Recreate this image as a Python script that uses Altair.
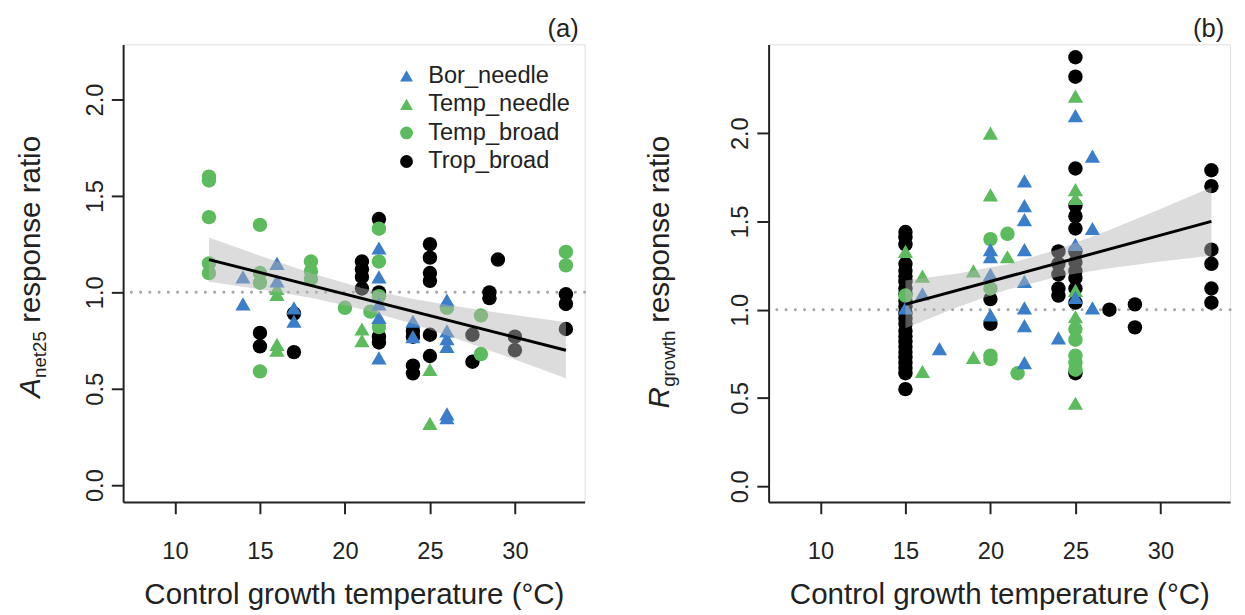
import altair as alt
import pandas as pd

FONT = "Liberation Sans"
GROUPS = ["Bor_needle", "Temp_needle", "Temp_broad", "Trop_broad"]
GROUP_COLORS = ["#3A7DC9", "#5CBB5C", "#5CBB5C", "#000000"]
GROUP_SHAPES = ["triangle-up", "triangle-up", "circle", "circle"]
X_TICKS = [10, 15, 20, 25, 30]
Y_TICKS = [0.0, 0.5, 1.0, 1.5, 2.0]
X_LABEL = "Control growth temperature (°C)"
X_DOMAIN = [6.95, 34.1]
REF_LINE = [1.0]

# ---------------- Panel (a): A_net25 response ratio ----------------
a_bor_t = [14, 14, 16, 16, 17, 17, 22, 22, 22, 22, 22, 24, 24, 26, 26, 26, 26, 26, 26]
a_bor_v = [1.08, 0.94, 1.15, 1.06, 0.92, 0.85, 1.23, 1.08, 0.94, 0.87, 0.66, 0.85, 0.77,
           0.96, 0.80, 0.76, 0.72, 0.37, 0.35]
a_tneedle_t = [16, 16, 16, 16, 21, 21, 25, 25]
a_tneedle_v = [1.02, 0.99, 0.73, 0.70, 0.81, 0.75, 0.60, 0.32]
a_tbroad_t = [12, 12, 12, 12, 12, 15, 15, 15, 15, 18, 18, 18, 20, 21.5, 22, 22, 22, 22,
              26, 28, 28, 33, 33]
a_tbroad_v = [1.60, 1.58, 1.39, 1.15, 1.10, 1.35, 1.10, 1.05, 0.59, 1.16, 1.11, 1.07, 0.92,
              0.90, 1.33, 1.16, 0.98, 0.82, 0.92, 0.88, 0.68, 1.21, 1.14]
a_trop_t = [15, 15, 17, 17, 21, 21, 21, 21, 22, 22, 22, 22, 24, 24, 24, 24, 25, 25, 25, 25,
            25, 25, 27.5, 27.5, 28.5, 28.5, 29, 30, 30, 33, 33, 33]
a_trop_v = [0.79, 0.72, 0.89, 0.69, 1.16, 1.12, 1.08, 1.02, 1.38, 1.00, 0.77, 0.74, 0.80,
            0.77, 0.62, 0.58, 1.25, 1.18, 1.10, 1.06, 0.78, 0.67, 0.78, 0.64, 1.00, 0.97,
            1.17, 0.77, 0.70, 0.99, 0.94, 0.81]
a_fit_t = [12, 33]
a_fit_v = [1.17, 0.70]
a_band_t = [12, 15, 18, 21, 24, 27, 30, 33]
a_band_lo = [1.055, 1.016, 0.972, 0.913, 0.837, 0.747, 0.652, 0.555]
a_band_hi = [1.285, 1.190, 1.100, 1.023, 0.965, 0.921, 0.882, 0.845]
a_ydom = [-0.087, 2.286]

# ---------------- Panel (b): R_growth response ratio ----------------
b_bor_t = [15, 16, 17, 20, 20, 20, 20, 22, 22, 22, 22, 22, 22, 22, 22, 24, 25, 25, 25,
           26, 26, 26]
b_bor_v = [1.01, 1.09, 0.78, 1.34, 1.30, 1.20, 0.97, 1.73, 1.59, 1.51, 1.34, 1.16, 1.01,
           0.91, 0.70, 0.84, 2.10, 1.37, 1.07, 1.87, 1.46, 1.01]
b_tneedle_t = [15, 16, 16, 19, 19, 20, 20, 21, 25, 25, 25, 25, 25, 25]
b_tneedle_v = [1.33, 1.19, 0.65, 1.22, 0.73, 2.00, 1.65, 1.30, 2.21, 1.68, 1.63, 1.11,
               0.96, 0.47]
b_tbroad_t = [15, 20, 20, 20, 20, 21, 21.6, 25, 25, 25, 25, 25]
b_tbroad_v = [1.08, 1.40, 1.12, 0.74, 0.72, 1.43, 0.64, 0.89, 0.83, 0.74, 0.70, 0.66]
b_trop_t = [15] * 24 + [20, 20, 24, 24, 24, 24, 24] + [25] * 13 + [27, 28.5, 28.5,
                                                                  33, 33, 33, 33, 33, 33]
b_trop_v = [1.44, 1.41, 1.37, 1.26, 1.22, 1.19, 1.16, 1.12, 1.09, 1.05, 1.02, 0.98, 0.95,
            0.92, 0.88, 0.85, 0.82, 0.79, 0.76, 0.73, 0.70, 0.67, 0.64, 0.55,
            1.06, 0.92, 1.33, 1.26, 1.20, 1.12, 1.08,
            2.43, 2.32, 1.80, 1.59, 1.53, 1.46, 1.33, 1.27, 1.22, 1.18, 1.12, 1.04, 0.64,
            1.00, 1.03, 0.90, 1.79, 1.70, 1.34, 1.26, 1.12, 1.04]
b_fit_t = [15, 33]
b_fit_v = [1.03, 1.50]
b_band_t = [15, 18, 21, 24, 27, 30, 33]
b_band_lo = [0.895, 1.012, 1.114, 1.188, 1.235, 1.273, 1.306]
b_band_hi = [1.165, 1.204, 1.258, 1.342, 1.451, 1.571, 1.694]
b_ydom = [-0.089, 2.503]


def points_frame(groups):
    rows = []
    for g in ["Trop_broad", "Temp_broad", "Temp_needle", "Bor_needle"]:
        ts, vs = groups[g]
        for t, v in zip(ts, vs):
            rows.append({"T": t, "v": v, "grp": g})
    return pd.DataFrame(rows)


def panel(groups, fit_t, fit_v, band_t, band_lo, band_hi, ydom, tag, title_parts,
          show_legend, title_x):
    pts = points_frame(groups)
    xs = alt.Scale(domain=X_DOMAIN, nice=False, zero=False)
    ys = alt.Scale(domain=ydom, nice=False, zero=False)
    common = dict(grid=False, tickSize=12, tickWidth=2, domainWidth=2,
                  domainColor="#222222", tickColor="#222222", labelColor="#222222",
                  titleColor="#222222", labelFont=FONT, titleFont=FONT,
                  labelFontSize=24, titleFontSize=30, titleFontWeight="normal",
                  labelFlush=False, labelOverlap=False)
    xax = alt.Axis(values=X_TICKS, title=X_LABEL, labelPadding=26, titlePadding=17,
                   **common)
    yax = alt.Axis(values=Y_TICKS, format=".1f", title=None, labelAngle=270,
                   labelAlign="center", labelBaseline="bottom", labelPadding=4, **common)
    X = alt.X("T:Q", scale=xs, axis=xax)
    Y = alt.Y("v:Q", scale=ys, axis=yax)

    if show_legend:
        leg = alt.Legend(title=None, orient="none", legendX=276, legendY=20,
                         labelFontSize=24, labelFont=FONT, labelColor="#222222",
                         symbolSize=170, rowPadding=5, labelOffset=10,
                         symbolStrokeWidth=0, padding=0)
        col = alt.Color("grp:N", scale=alt.Scale(domain=GROUPS, range=GROUP_COLORS),
                        legend=leg)
        shp = alt.Shape("grp:N", scale=alt.Scale(domain=GROUPS, range=GROUP_SHAPES),
                        legend=leg)
    else:
        col = alt.Color("grp:N", scale=alt.Scale(domain=GROUPS, range=GROUP_COLORS),
                        legend=None)
        shp = alt.Shape("grp:N", scale=alt.Scale(domain=GROUPS, range=GROUP_SHAPES),
                        legend=None)

    ref = alt.Chart(pd.DataFrame({"v": REF_LINE})).mark_rule(
        color="#a6a6a6", strokeWidth=3, strokeDash=[0.1, 9.3], strokeCap="round"
    ).encode(y=Y)
    circles = alt.Chart(pts[pts.grp.isin(["Trop_broad", "Temp_broad"])]).mark_point(
        filled=True, size=215, opacity=1).encode(x=X, y=Y, color=col, shape=shp)
    tris = alt.Chart(pts[pts.grp.isin(["Temp_needle", "Bor_needle"])]).mark_point(
        filled=True, size=240, opacity=1).encode(x=X, y=Y, color=col, shape=shp)
    band = alt.Chart(pd.DataFrame({"T": band_t, "lo": band_lo, "hi": band_hi})).mark_area(
        color="#b4b4b4", opacity=0.47).encode(x=X, y=alt.Y("lo:Q", scale=ys, axis=yax),
                                                y2="hi:Q")
    fit = alt.Chart(pd.DataFrame({"T": fit_t, "v": fit_v})).mark_line(
        color="black", strokeWidth=3).encode(x=X, y=Y)

    texts = []
    for txt, ypos, dx, fs, style in title_parts:
        texts.append(alt.Chart(pd.DataFrame({"s": [txt]})).mark_text(
            angle=270, align="left", baseline="middle", fontSize=fs, font=FONT,
            fontStyle=style, color="#222222"
        ).encode(x=alt.value(title_x + dx), y=alt.value(ypos), text="s:N"))

    return alt.layer(ref, circles, tris, band, fit, *texts).properties(
        width=469, height=465,
        title=alt.TitleParams(tag, anchor="end", frame="group", fontSize=26,
                              fontWeight="normal", font=FONT, color="#222222",
                              dx=-6, offset=2))


groups_a = {"Bor_needle": (a_bor_t, a_bor_v), "Temp_needle": (a_tneedle_t, a_tneedle_v),
            "Temp_broad": (a_tbroad_t, a_tbroad_v), "Trop_broad": (a_trop_t, a_trop_v)}
groups_b = {"Bor_needle": (b_bor_t, b_bor_v), "Temp_needle": (b_tneedle_t, b_tneedle_v),
            "Temp_broad": (b_tbroad_t, b_tbroad_v), "Trop_broad": (b_trop_t, b_trop_v)}

title_a = [("A", 359, 0, 30, "italic"), ("net25", 339, 9, 19, "normal"),
           ("response ratio", 283, 0, 30, "normal")]
title_b = [("R", 370, 0, 30, "italic"), ("growth", 348, 9, 19, "normal"),
           ("response ratio", 283, 0, 30, "normal")]

pa = panel(groups_a, a_fit_t, a_fit_v, a_band_t, a_band_lo, a_band_hi, a_ydom, "(a)",
           title_a, True, -93)
pb = panel(groups_b, b_fit_t, b_fit_v, b_band_t, b_band_lo, b_band_hi, b_ydom, "(b)",
           title_b, False, -110)

chart = alt.hconcat(pa, pb, spacing=59).resolve_scale(
    x="independent", y="independent", color="independent", shape="independent"
).properties(
    padding={"left": 8, "top": 3, "right": 5, "bottom": 5}
).configure_view(stroke=None).configure(background="white")

chart.save("out.html", embed_options={"renderer": "svg", "actions": False})
